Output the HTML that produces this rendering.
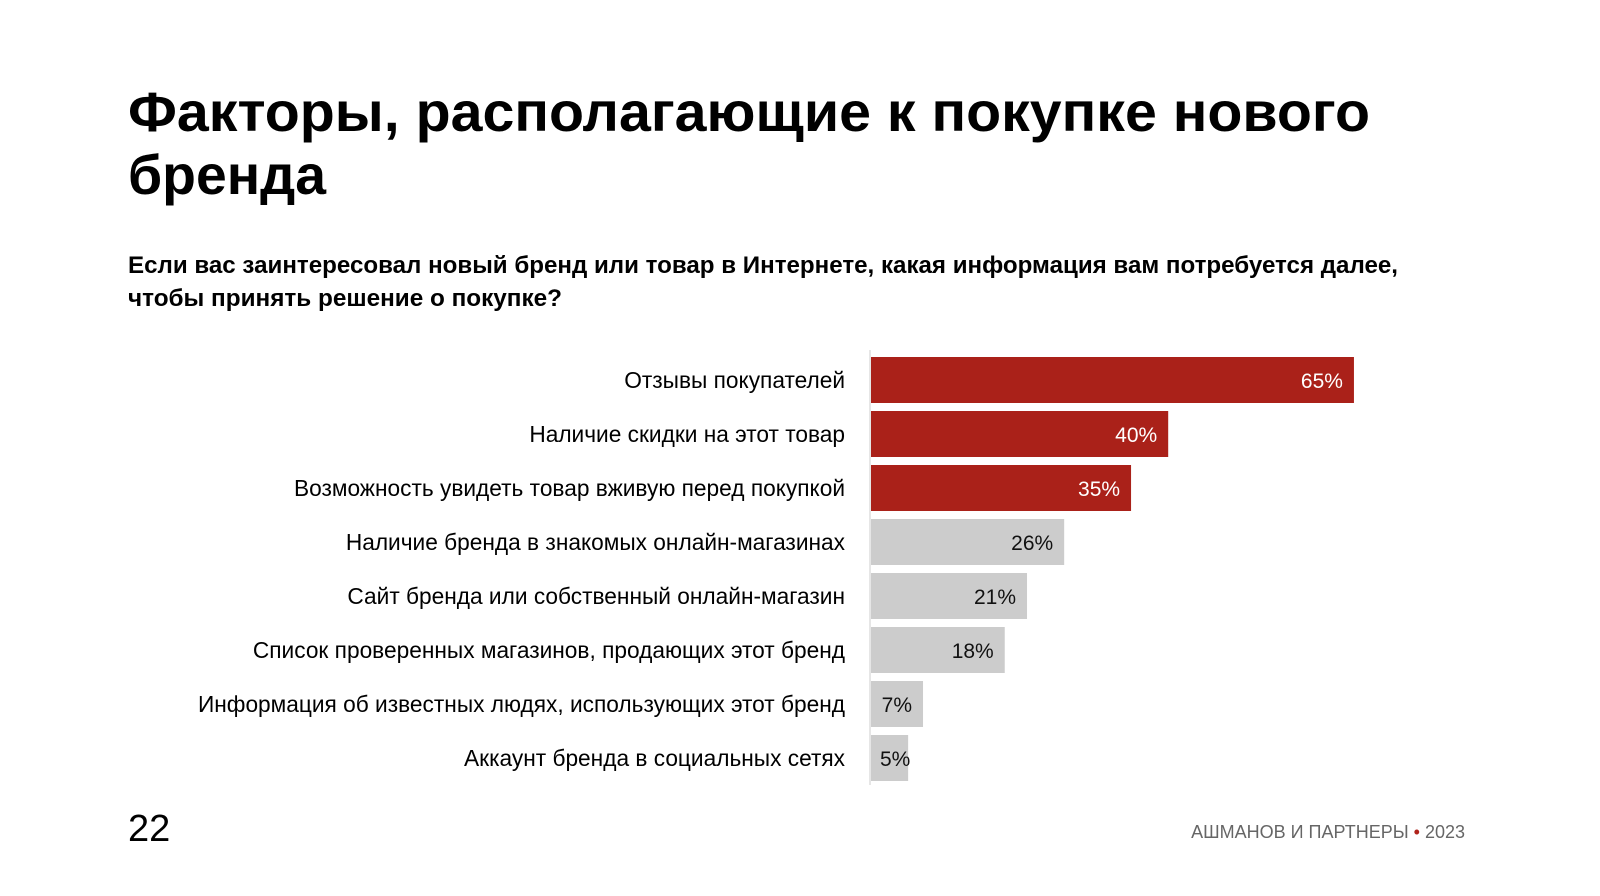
<!DOCTYPE html>
<html><head><meta charset="utf-8"><style>
html,body{margin:0;padding:0;background:#fff}
svg{display:block;font-family:"Liberation Sans",sans-serif}
</style></head><body>
<svg width="1600" height="896" viewBox="0 0 1600 896">
<text x="128" y="131" font-size="56" font-weight="bold" fill="#000" textLength="1242" lengthAdjust="spacingAndGlyphs">Факторы, располагающие к покупке нового</text>
<text x="128" y="194" font-size="56" font-weight="bold" fill="#000" textLength="198" lengthAdjust="spacingAndGlyphs">бренда</text>
<text x="128" y="273" font-size="24" font-weight="bold" fill="#000" textLength="1270" lengthAdjust="spacingAndGlyphs">Если вас заинтересовал новый бренд или товар в Интернете, какая информация вам потребуется далее,</text>
<text x="128" y="306" font-size="24" font-weight="bold" fill="#000" textLength="434" lengthAdjust="spacingAndGlyphs">чтобы принять решение о покупке?</text>
<g id="chart"></g>
<text x="128" y="841" font-size="38" fill="#000">22</text>
<text x="1465" y="838" font-size="18" fill="#666" text-anchor="end">АШМАНОВ И ПАРТНЕРЫ <tspan fill="#b0231b">•</tspan> 2023</text>
</svg>
<script>
const categories = ["Отзывы покупателей","Наличие скидки на этот товар","Возможность увидеть товар вживую перед покупкой","Наличие бренда в знакомых онлайн-магазинах","Сайт бренда или собственный онлайн-магазин","Список проверенных магазинов, продающих этот бренд","Информация об известных людях, использующих этот бренд","Аккаунт бренда в социальных сетях"];
const values = [65,40,35,26,21,18,7,5];
const highlighted = [true,true,true,false,false,false,false,false];
const valueLabels = ["65%","40%","35%","26%","21%","18%","7%","5%"];

const NS="http://www.w3.org/2000/svg";
const g=document.getElementById('chart');
const x0=871, pxPer=7.43, top0=357, pitch=54, bh=46;
const xScale=v=>x0+v*pxPer;
const yScale=i=>top0+i*pitch;
function mk(t,a){const e=document.createElementNS(NS,t);for(const k in a)e.setAttribute(k,a[k]);g.appendChild(e);return e;}
const axis=mk('line',{x1:x0-1,x2:x0-1,y1:350,y2:785,stroke:'#e6e6e6','stroke-width':2});


categories.forEach((c,i)=>{
  const y=yScale(i), xe=xScale(values[i]);
  const r=mk('rect',{x:x0,y:y,width:xe-x0,height:bh,fill:highlighted[i]?'#aa2119':'#cccccc'});
  
  
  const l=mk('text',{x:845,y:y+bh/2+8,'font-size':22.7,'text-anchor':'end',fill:'#000'});
  l.textContent=c;
  
  
  const small=(xe-x0)<50;
  const v=mk('text',{x:small?x0+9:xe-11,y:y+bh/2+8,'font-size':21,'text-anchor':small?'start':'end',fill:highlighted[i]?'#fff':'#111'});
  v.textContent=valueLabels[i];
  
  
});
</script>
</body></html>
